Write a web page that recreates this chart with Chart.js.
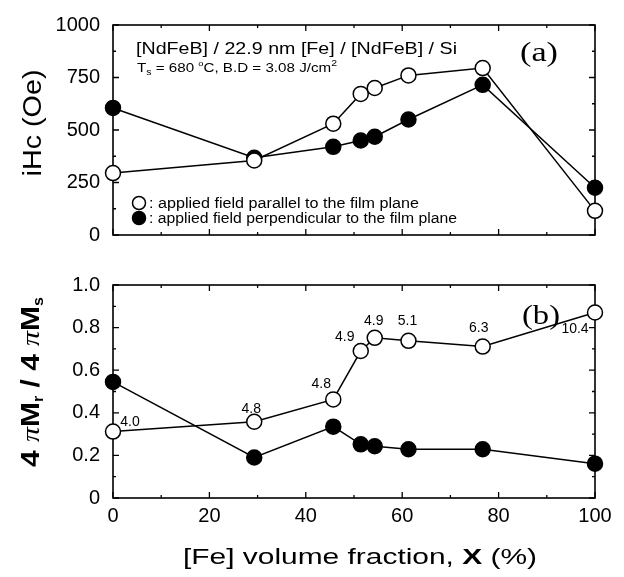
<!DOCTYPE html>
<html><head><meta charset="utf-8">
<script src="https://cdn.jsdelivr.net/npm/chart.js@4/dist/chart.umd.min.js"></script>
<style>
html,body{margin:0;padding:0;background:#fff;}
#wrap{position:relative;width:624px;height:577px;background:#fff;}
canvas{position:absolute;left:0;}
</style></head><body>
<div id="wrap">
<canvas id="ca" width="624" height="260" style="top:0"></canvas>
<canvas id="cb" width="624" height="317" style="top:260px"></canvas>
</div>
<script>
// ---- data ----
const fraction = [0, 29.3, 45.7, 51.4, 54.3, 61.3, 76.7, 100];
const ihcParallel = [295, 355, 530, 672, 700, 760, 795, 115];
const ihcPerp = [605, 368, 420, 450, 468, 550, 715, 225];
const ratioParallel = [0.312, 0.358, 0.463, 0.69, 0.752, 0.738, 0.711, 0.871];
const ratioPerp = [0.545, 0.19, 0.335, 0.252, 0.243, 0.229, 0.229, 0.161];
const ratioLabels = ['4.0', '4.8', '4.8', '4.9', '4.9', '5.1', '6.3', '10.4'];
const xTicks = [0, 20, 40, 60, 80, 100];
const ihcTicks = [0, 250, 500, 750, 1000];
const ratioTicks = [0, 0.2, 0.4, 0.6, 0.8, 1.0];

// label offsets (style only)
const labelOffsets = [[17, -9], [-3, -13], [-12, -15], [-16, -14], [-1, -17], [-1, -20], [-4, -18], [-20, 17]];

const SANS = '"Liberation Sans", Arial, sans-serif';
const SERIF = '"Liberation Serif", "Times New Roman", serif';

function pts(xs, ys) { return xs.map((x, i) => ({ x: x, y: ys[i] })); }

function drawRich(ctx, segs, x, y, opts) {
  opts = opts || {};
  ctx.save();
  ctx.fillStyle = '#000';
  ctx.textBaseline = 'alphabetic';
  ctx.textAlign = 'left';
  let total = 0;
  segs.forEach(s => { ctx.font = s.font; s.w = ctx.measureText(s.t).width; total += s.w; });
  ctx.translate(x, y);
  if (opts.rot) ctx.rotate(opts.rot);
  const sx = opts.width ? opts.width / total : 1;
  ctx.scale(sx, 1);
  let cx = opts.align === 'center' ? -total / 2 : 0;
  segs.forEach(s => {
    ctx.font = s.font;
    ctx.fillText(s.t, cx, s.dy || 0);
    cx += s.w;
  });
  ctx.restore();
}

function frameTicks(chart, yMinor, yMajor) {
  const ctx = chart.ctx, a = chart.chartArea;
  const xs = chart.scales.x, ys = chart.scales.y;
  ctx.save();
  ctx.strokeStyle = '#000';
  ctx.lineWidth = 1.6;
  ctx.strokeRect(a.left, a.top, a.right - a.left, a.bottom - a.top);
  ctx.lineWidth = 1.3;
  ctx.beginPath();
  for (let v = 0; v <= 100.001; v += 10) {
    const px = xs.getPixelForValue(v);
    const L = (Math.round(v) % 20 === 0) ? 6 : 3;
    ctx.moveTo(px, a.bottom); ctx.lineTo(px, a.bottom - L);
    ctx.moveTo(px, a.top); ctx.lineTo(px, a.top + L);
  }
  const n = Math.round((ys.max - ys.min) / yMinor);
  for (let i = 0; i <= n; i++) {
    const v = ys.min + i * yMinor;
    const py = ys.getPixelForValue(v);
    const major = Math.abs(v / yMajor - Math.round(v / yMajor)) < 1e-6;
    const L = major ? 6 : 3;
    ctx.moveTo(a.left, py); ctx.lineTo(a.left + L, py);
    ctx.moveTo(a.right, py); ctx.lineTo(a.right - L, py);
  }
  ctx.stroke();
  ctx.restore();
}

function dsOpen(data) {
  return {
    data: data, showLine: true, borderColor: '#000', borderWidth: 1.5,
    pointRadius: 7.5, pointBackgroundColor: '#fff', pointBorderColor: '#000',
    pointBorderWidth: 1.5, clip: false, tension: 0, order: 0
  };
}
function dsFilled(data) {
  return {
    data: data, showLine: true, borderColor: '#000', borderWidth: 1.5,
    pointRadius: 7.5, pointBackgroundColor: '#000', pointBorderColor: '#000',
    pointBorderWidth: 1.5, clip: false, tension: 0, order: 1
  };
}

// ---------- panel (a) ----------
new Chart(document.getElementById('ca'), {
  type: 'scatter',
  data: { datasets: [dsOpen(pts(fraction, ihcParallel)), dsFilled(pts(fraction, ihcPerp))] },
  options: {
    responsive: false, animation: false,
    layout: { padding: { top: 20, right: 29, bottom: 23, left: 0 } },
    plugins: { legend: { display: false }, tooltip: { enabled: false } },
    scales: {
      x: { type: 'linear', min: 0, max: 100, display: false },
      y: {
        type: 'linear', min: 0, max: 1000,
        afterFit: s => { s.width = 113; },
        afterBuildTicks: s => { s.ticks = ihcTicks.map(v => ({ value: v })); },
        grid: { display: false, drawTicks: false }, border: { display: false },
        ticks: { padding: 13, color: '#000', font: { family: SANS, size: 20 }, callback: v => String(v) }
      }
    }
  },
  plugins: [{
    id: 'decoA',
    beforeDatasetsDraw(chart) { frameTicks(chart, 125, 250); },
    afterDraw(chart) {
      const ctx = chart.ctx;
      const f = (sz, w) => (w || '') + ' ' + sz + 'px ' + SANS;
      // y title
      drawRich(ctx, [{ t: 'iHc (Oe)', font: f(26) }], 41, 123, { rot: -Math.PI / 2, align: 'center', width: 107 });
      // header
      drawRich(ctx, [{ t: '[NdFeB] / 22.9 nm [Fe] / [NdFeB] / Si', font: f(17) }], 136, 54, { width: 321 });
      drawRich(ctx, [
        { t: 'T', font: f(13) }, { t: 's', font: f(9), dy: 3 },
        { t: ' = 680 ', font: f(13) }, { t: 'o', font: f(8), dy: -6 },
        { t: 'C, B.D = 3.08 J/cm', font: f(13) }, { t: '2', font: f(9), dy: -6 }
      ], 137, 72, { width: 200 });
      // panel tag
      drawRich(ctx, [{ t: '(a)', font: '28px ' + SERIF }], 539, 61, { align: 'center', width: 38 });
      // legend
      ctx.save();
      ctx.lineWidth = 1.5; ctx.strokeStyle = '#000';
      ctx.beginPath(); ctx.arc(139, 203, 6.5, 0, Math.PI * 2); ctx.fillStyle = '#fff'; ctx.fill(); ctx.stroke();
      ctx.beginPath(); ctx.arc(139, 218, 6.5, 0, Math.PI * 2); ctx.fillStyle = '#000'; ctx.fill(); ctx.stroke();
      ctx.restore();
      drawRich(ctx, [{ t: ': applied field parallel to the film plane', font: f(14) }], 149, 208, { width: 270 });
      drawRich(ctx, [{ t: ': applied field perpendicular to the film plane', font: f(14) }], 149, 223, { width: 308 });
    }
  }]
});

// ---------- panel (b) ----------
new Chart(document.getElementById('cb'), {
  type: 'scatter',
  data: { datasets: [dsOpen(pts(fraction, ratioParallel)), dsFilled(pts(fraction, ratioPerp))] },
  options: {
    responsive: false, animation: false,
    layout: { padding: { top: 20, right: 29, bottom: 0, left: 0 } },
    plugins: { legend: { display: false }, tooltip: { enabled: false } },
    scales: {
      x: {
        type: 'linear', min: 0, max: 100,
        afterFit: s => { s.height = 79; },
        afterBuildTicks: s => { s.ticks = xTicks.map(v => ({ value: v })); },
        grid: { display: false, drawTicks: false }, border: { display: false },
        ticks: { padding: 6, color: '#000', font: { family: SANS, size: 20 }, maxRotation: 0, callback: v => String(v) }
      },
      y: {
        type: 'linear', min: 0, max: 1.0,
        afterFit: s => { s.width = 113; },
        afterBuildTicks: s => { s.ticks = ratioTicks.map(v => ({ value: v })); },
        grid: { display: false, drawTicks: false }, border: { display: false },
        ticks: { padding: 13, color: '#000', font: { family: SANS, size: 20 }, callback: v => (v === 0 ? '0' : Number(v).toFixed(1)) }
      }
    }
  },
  plugins: [{
    id: 'decoB',
    beforeDatasetsDraw(chart) { frameTicks(chart, 0.1, 0.2); },
    afterDraw(chart) {
      const ctx = chart.ctx;
      const f = (sz, w) => (w || '') + ' ' + sz + 'px ' + SANS;
      // data labels
      const meta = chart.getDatasetMeta(0);
      ratioLabels.forEach((lab, i) => {
        const el = meta.data[i];
        const o = labelOffsets[i];
        ctx.save();
        ctx.font = f(14); ctx.fillStyle = '#000';
        ctx.textAlign = 'center'; ctx.textBaseline = 'middle';
        ctx.fillText(lab, el.x + o[0], el.y + o[1]);
        ctx.restore();
      });
      drawRich(ctx, [{ t: '(b)', font: '28px ' + SERIF }], 541, 64, { align: 'center', width: 38 });
      // y title
      const B = f(26, 'bold'), Bs = f(14, 'bold'), P = 'italic 26px ' + SERIF;
      drawRich(ctx, [
        { t: '4 ', font: B }, { t: 'π', font: P }, { t: 'M', font: B }, { t: 'r', font: Bs, dy: 4 },
        { t: ' / 4 ', font: B }, { t: 'π', font: P }, { t: 'M', font: B }, { t: 's', font: Bs, dy: 4 }
      ], 39, 122, { rot: -Math.PI / 2, align: 'center', width: 170 });
      // x title
      drawRich(ctx, [
        { t: '[Fe] volume fraction, ', font: f(22) }, { t: 'X', font: f(22, 'bold') }, { t: ' (%)', font: f(22) }
      ], 360, 304, { align: 'center', width: 354 });
    }
  }]
});
</script>
</body></html>
